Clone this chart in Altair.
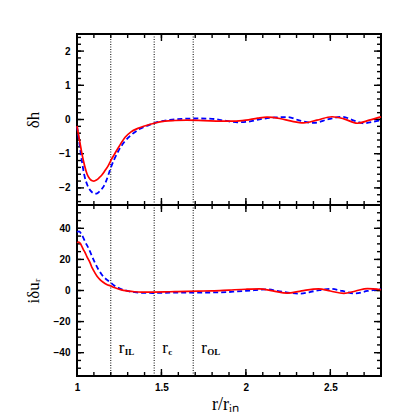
import altair as alt
import pandas as pd

# ---- data ----
r_top_red = [1.00, 1.01, 1.02, 1.03, 1.045, 1.06, 1.075, 1.09, 1.10, 1.115, 1.13, 1.146, 1.165, 1.186, 1.20,
             1.22, 1.25, 1.285, 1.32, 1.36, 1.40, 1.457, 1.52, 1.58, 1.65, 1.75, 1.85, 1.93, 2.00, 2.07,
             2.125, 2.20, 2.27, 2.342, 2.42, 2.51, 2.58, 2.66, 2.73, 2.80]
dh_red = [-0.19, -0.47, -0.75, -1.02, -1.35, -1.60, -1.73, -1.79, -1.80, -1.77, -1.71, -1.63, -1.50, -1.34, -1.20,
          -1.03, -0.78, -0.52, -0.36, -0.26, -0.19, -0.11, -0.05, -0.03, -0.02, -0.03, -0.05, -0.05, -0.02, 0.04,
          0.07, 0.03, -0.05, -0.10, -0.02, 0.08, 0.02, -0.11, -0.02, 0.08]

r_top_blue = [1.00, 1.01, 1.02, 1.03, 1.043, 1.06, 1.08, 1.095, 1.11, 1.125, 1.14, 1.156, 1.17, 1.185, 1.20,
              1.22, 1.245, 1.28, 1.324, 1.37, 1.423, 1.48, 1.55, 1.62, 1.72, 1.80, 1.87, 1.95, 2.00, 2.10,
              2.17, 2.244, 2.32, 2.40, 2.49, 2.57, 2.64, 2.70, 2.76, 2.80]
dh_blue = [-0.20, -0.55, -0.92, -1.25, -1.62, -1.90, -2.08, -2.15, -2.17, -2.14, -2.07, -1.97, -1.83, -1.63, -1.41,
           -1.17, -0.92, -0.66, -0.44, -0.28, -0.17, -0.07, -0.01, 0.02, 0.03, 0.02, -0.03, -0.08, -0.07, 0.02,
           0.06, 0.07, -0.03, -0.10, 0.01, 0.08, -0.03, -0.11, -0.06, -0.02]

r_bot_red = [1.00, 1.01, 1.02, 1.028, 1.037, 1.047, 1.06, 1.077, 1.09, 1.107, 1.12, 1.136, 1.155, 1.176, 1.20,
             1.22, 1.245, 1.275, 1.304, 1.34, 1.384, 1.45, 1.52, 1.58, 1.65, 1.72, 1.80, 1.90, 2.00, 2.08,
             2.16, 2.244, 2.33, 2.43, 2.50, 2.58, 2.65, 2.72, 2.80]
du_red = [30.8, 31.2, 30.3, 28.6, 26.5, 24.5, 21.5, 17.9, 14.5, 11.2, 9.0, 7.0, 5.3, 3.9, 2.9,
          1.9, 1.0, 0.1, -0.4, -0.8, -1.0, -1.0, -0.9, -0.7, -0.6, -0.4, -0.2, 0.3, 0.8, 1.0,
          -0.2, -1.7, -0.2, 1.1, -0.3, -1.9, -0.3, 1.2, 0.5]

r_bot_blue = [1.00, 1.012, 1.025, 1.037, 1.05, 1.067, 1.082, 1.097, 1.112, 1.127, 1.142, 1.156, 1.178, 1.20,
              1.22, 1.245, 1.275, 1.304, 1.34, 1.384, 1.45, 1.55, 1.65, 1.75, 1.85, 1.95, 2.05, 2.125,
              2.20, 2.32, 2.41, 2.50, 2.57, 2.645, 2.72, 2.80]
du_blue = [37.6, 38.0, 36.5, 34.0, 31.0, 27.5, 23.8, 20.0, 16.6, 13.5, 11.0, 9.0, 6.8, 5.0,
           3.2, 1.7, 0.4, -0.4, -1.1, -1.5, -1.6, -1.4, -1.3, -1.3, -1.2, -0.6, 0.2, 0.7,
           -0.5, -2.0, -0.3, 1.1, -0.3, -1.9, -0.3, 1.0]

r_lines = [1.2, 1.457, 1.688]
r_names = ["r", "r", "r"]
r_subs = ["IL", "c", "OL"]

x_domain = [1, 2.8]
x_major = [1, 1.5, 2, 2.5]
x_minor = [round(1 + 0.1 * i, 2) for i in range(19)]
dh_domain = [-2.5, 2.5]
dh_major = [-2, -1, 0, 1, 2]
dh_minor = [round(-2.4 + 0.2 * i, 2) for i in range(25)]
du_domain = [-55, 55]
du_major = [-40, -20, 0, 20, 40]
du_minor = list(range(-50, 55, 5))

W, H = 304, 171
LABEL_FONT = "Liberation Sans"
SERIF = "Liberation Serif"
MAJOR, MINOR = 7, 4


def label_axis(orient, values, title, pad, size, **kw):
    return alt.Axis(orient=orient, values=values, ticks=False, tickSize=0, domain=False, grid=False,
                    labelPadding=pad, labelFont=LABEL_FONT, labelFontWeight="bold",
                    labelFontSize=10, labelColor="black", format="~f", labelFlush=False,
                    title=title, titleFont=SERIF, titleFontWeight="normal", titleFontSize=size,
                    titleColor="black", **kw)


def tick_marks(values, side, size, xs, ys, ydomain):
    df = pd.DataFrame({"t": values})
    base = dict(color="black", opacity=1, thickness=1.4, size=size)
    if side in ("bottom", "top"):
        yv = ydomain[0] if side == "bottom" else ydomain[1]
        off = -size / 2 if side == "bottom" else size / 2
        return alt.Chart(df).mark_tick(orient="vertical", yOffset=off, **base).encode(
            x=alt.X("t:Q", scale=xs, axis=None),
            y=alt.YDatum(yv, scale=ys, axis=None))
    xv = x_domain[0] if side == "left" else x_domain[1]
    off = size / 2 if side == "left" else -size / 2
    return alt.Chart(df).mark_tick(orient="horizontal", xOffset=off, **base).encode(
        x=alt.XDatum(xv, scale=xs, axis=None),
        y=alt.Y("t:Q", scale=ys, axis=None))


def panel(r_red, v_red, r_blue, v_blue, ydomain, ymajor, yminor, ytitle, bottom):
    red = pd.DataFrame({"r": r_red, "v": v_red})
    blue = pd.DataFrame({"r": r_blue, "v": v_blue})
    xs = alt.Scale(domain=x_domain, nice=False, zero=False)
    ys = alt.Scale(domain=ydomain, nice=False, zero=False)

    yl = label_axis("left", ymajor, ytitle, 7, 17, titleX=-39, titleY=H / 2, titleAngle=270,
                    titleAlign="center", titleBaseline="alphabetic")
    if bottom:
        xl = label_axis("bottom", x_major, "r/rᵢₙ", 6, 18, titleX=W / 2 - 4, titleY=33,
                        titleAlign="center", titleBaseline="alphabetic")
    else:
        xl = None
    carrier = alt.Chart(red).mark_point(opacity=0).encode(
        x=alt.X("r:Q", scale=xs, axis=xl), y=alt.Y("v:Q", scale=ys, axis=yl))
    layers = [carrier]
    for side in ("bottom", "top"):
        layers.append(tick_marks(x_major, side, MAJOR, xs, ys, ydomain))
        layers.append(tick_marks(x_minor, side, MINOR, xs, ys, ydomain))
    for side in ("left", "right"):
        layers.append(tick_marks(ymajor, side, MAJOR, xs, ys, ydomain))
        layers.append(tick_marks(yminor, side, MINOR, xs, ys, ydomain))

    lines_df = pd.DataFrame({"r": r_lines, "name": r_names, "sub": r_subs})
    rules = alt.Chart(lines_df).mark_rule(color="black", strokeWidth=1, strokeDash=[1, 1.5]).encode(
        x=alt.X("r:Q", scale=xs, axis=None),
        y=alt.YDatum(ydomain[1], scale=ys, axis=None),
        y2=alt.Y2Datum(ydomain[0]))
    red_line = alt.Chart(red).mark_line(color="#ff0000", strokeWidth=1.7, interpolate="monotone").encode(
        x=alt.X("r:Q", scale=xs, axis=None), y=alt.Y("v:Q", scale=ys, axis=None))
    blue_line = alt.Chart(blue).mark_line(color="#0000ff", strokeWidth=1.8, strokeDash=[5, 3],
                                          interpolate="monotone").encode(
        x=alt.X("r:Q", scale=xs, axis=None), y=alt.Y("v:Q", scale=ys, axis=None))
    layers += [rules, blue_line, red_line]
    if bottom:
        t1 = alt.Chart(lines_df).mark_text(font=SERIF, fontSize=17, align="left", baseline="alphabetic",
                                           dx=8, color="black").encode(
            x=alt.X("r:Q", scale=xs, axis=None), y=alt.YDatum(-40.5, scale=ys, axis=None), text="name:N")
        t2 = alt.Chart(lines_df).mark_text(font=SERIF, fontSize=9, fontWeight="bold", align="left",
                                           baseline="alphabetic", dx=14, dy=2, color="black").encode(
            x=alt.X("r:Q", scale=xs, axis=None), y=alt.YDatum(-40.5, scale=ys, axis=None), text="sub:N")
        layers += [t1, t2]
    return alt.layer(*layers).resolve_axis(x="independent", y="independent").properties(width=W, height=H)


top = panel(r_top_red, dh_red, r_top_blue, dh_blue, dh_domain, dh_major, dh_minor, "δh", False)
bot = panel(r_bot_red, du_red, r_bot_blue, du_blue, du_domain, du_major, du_minor, "iδuᵣ", True)

chart = alt.vconcat(top, bot, spacing=0, bounds="flush").properties(
    padding={"left": 15, "top": 24, "right": 5, "bottom": 0}
).configure_view(stroke="black", strokeWidth=2)

chart.save("out.html", embed_options={"renderer": "svg", "actions": False})
